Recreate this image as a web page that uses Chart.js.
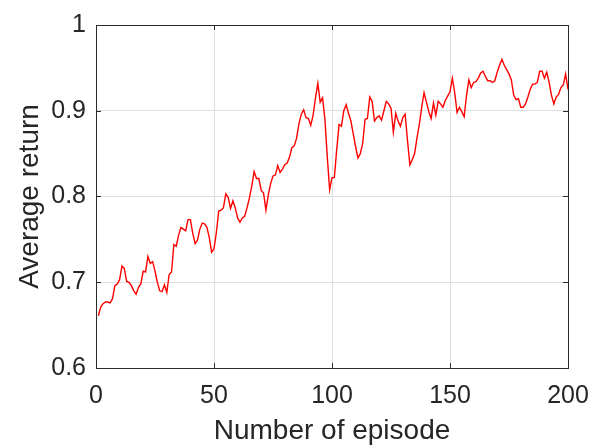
<!DOCTYPE html>
<html>
<head>
<meta charset="utf-8">
<script src="https://cdn.jsdelivr.net/npm/chart.js@4/dist/chart.umd.min.js"></script>
<style>
  html, body { margin: 0; padding: 0; background: #ffffff; }
  #wrap { width: 591px; height: 445px; }
</style>
</head>
<body>
<div id="wrap"><canvas id="c" width="591" height="445"></canvas></div>
<script>
// Average return per episode (episodes 1..200)
const avgReturn = [
  0.661, 0.671, 0.675, 0.677, 0.677, 0.676, 0.681, 0.696, 0.698, 0.703,
  0.719, 0.716, 0.701, 0.700, 0.696, 0.690, 0.686, 0.694, 0.698, 0.713,
  0.712, 0.730, 0.722, 0.724, 0.713, 0.700, 0.690, 0.689, 0.697, 0.688,
  0.709, 0.712, 0.744, 0.742, 0.755, 0.764, 0.762, 0.760, 0.773, 0.773,
  0.757, 0.745, 0.749, 0.762, 0.769, 0.768, 0.764, 0.752, 0.735, 0.739,
  0.758, 0.783, 0.784, 0.787, 0.803, 0.799, 0.786, 0.795, 0.787, 0.775,
  0.770, 0.775, 0.777, 0.787, 0.798, 0.812, 0.829, 0.821, 0.821, 0.807,
  0.804, 0.784, 0.802, 0.815, 0.824, 0.825, 0.836, 0.828, 0.832, 0.837,
  0.839, 0.846, 0.857, 0.859, 0.868, 0.885, 0.896, 0.901, 0.892, 0.891,
  0.883, 0.895, 0.915, 0.932, 0.910, 0.915, 0.890, 0.846, 0.808, 0.822,
  0.822, 0.855, 0.884, 0.882, 0.900, 0.907, 0.897, 0.888, 0.873, 0.858,
  0.845, 0.850, 0.862, 0.890, 0.891, 0.916, 0.911, 0.888, 0.892, 0.894,
  0.889, 0.900, 0.911, 0.908, 0.903, 0.875, 0.897, 0.888, 0.882, 0.892,
  0.896, 0.865, 0.837, 0.843, 0.850, 0.868, 0.884, 0.904, 0.921, 0.910,
  0.899, 0.891, 0.909, 0.895, 0.911, 0.908, 0.904, 0.912, 0.917, 0.922,
  0.938, 0.921, 0.898, 0.904, 0.899, 0.893, 0.918, 0.936, 0.927, 0.933,
  0.934, 0.938, 0.944, 0.946, 0.940, 0.935, 0.935, 0.933, 0.935, 0.945,
  0.953, 0.960, 0.953, 0.948, 0.943, 0.936, 0.918, 0.913, 0.914, 0.904,
  0.904, 0.908, 0.916, 0.925, 0.931, 0.931, 0.933, 0.946, 0.946, 0.938,
  0.945, 0.933, 0.918, 0.908, 0.916, 0.919, 0.927, 0.930, 0.943, 0.925
];
const xTickValues = [0, 50, 100, 150, 200];
const yTickValues = [0.6, 0.7, 0.8, 0.9, 1];

const xTitle = 'Number of episode';
const yTitle = 'Average return';

const points = avgReturn.map((v, i) => ({ x: i + 1, y: v }));

const TEXT = '#262626';
const AXIS = '#2b2b2b';
const GRID = '#dedede';
const FONT = 'Liberation Sans, Arial, Helvetica, sans-serif';

// Boxed axes with short inward tick marks on all four sides
const boxAxes = {
  id: 'boxAxes',
  afterDraw(chart) {
    const { ctx, chartArea: a, scales } = chart;
    const len = 5;
    ctx.save();
    ctx.strokeStyle = AXIS;
    ctx.lineWidth = 1;
    ctx.beginPath();
    xTickValues.forEach(v => {
      const px = Math.round(scales.x.getPixelForValue(v)) + 0.5;
      ctx.moveTo(px, a.bottom); ctx.lineTo(px, a.bottom - len);
      ctx.moveTo(px, a.top); ctx.lineTo(px, a.top + len);
    });
    yTickValues.forEach(v => {
      const py = Math.round(scales.y.getPixelForValue(v)) + 0.5;
      ctx.moveTo(a.left, py); ctx.lineTo(a.left + len, py);
      ctx.moveTo(a.right, py); ctx.lineTo(a.right - len, py);
    });
    ctx.stroke();
    ctx.strokeRect(Math.round(a.left) + 0.5, Math.round(a.top) + 0.5,
                   Math.round(a.right - a.left), Math.round(a.bottom - a.top));
    ctx.restore();
  }
};

new Chart(document.getElementById('c'), {
  type: 'line',
  data: {
    datasets: [{
      data: points,
      borderColor: '#ff0000',
      borderWidth: 1.4,
      pointRadius: 0,
      tension: 0,
      fill: false
    }]
  },
  options: {
    responsive: false,
    animation: false,
    devicePixelRatio: 1,
    layout: { padding: { top: 18, right: 23, left: 0, bottom: 0 } },
    plugins: { legend: { display: false }, tooltip: { enabled: false } },
    scales: {
      x: {
        type: 'linear',
        min: 0, max: 200,
        afterBuildTicks: s => { s.ticks = xTickValues.map(v => ({ value: v })); },
        afterFit: s => { s.height = 77; s.paddingLeft = 0; s.paddingRight = 0; },
        grid: { color: GRID, lineWidth: 1, drawTicks: false },
        border: { color: AXIS, width: 1 },
        ticks: { color: TEXT, font: { family: FONT, size: 25 }, padding: 13, maxRotation: 0 },
        title: { display: true, text: xTitle, color: TEXT, font: { family: FONT, size: 28 }, padding: { top: 0, bottom: -3 } }
      },
      y: {
        type: 'linear',
        min: 0.6, max: 1,
        afterBuildTicks: s => { s.ticks = yTickValues.map(v => ({ value: v })); },
        afterFit: s => { s.width = 96; },
        grid: { color: GRID, lineWidth: 1, drawTicks: false },
        border: { color: AXIS, width: 1 },
        ticks: {
          color: TEXT, font: { family: FONT, size: 25 }, padding: 10,
          callback: v => (v === 1 ? '1' : v.toFixed(1))
        },
        title: { display: true, text: yTitle, color: TEXT, font: { family: FONT, size: 28 }, padding: { top: 13, bottom: 0 } }
      }
    }
  },
  plugins: [boxAxes]
});
</script>
</body>
</html>
